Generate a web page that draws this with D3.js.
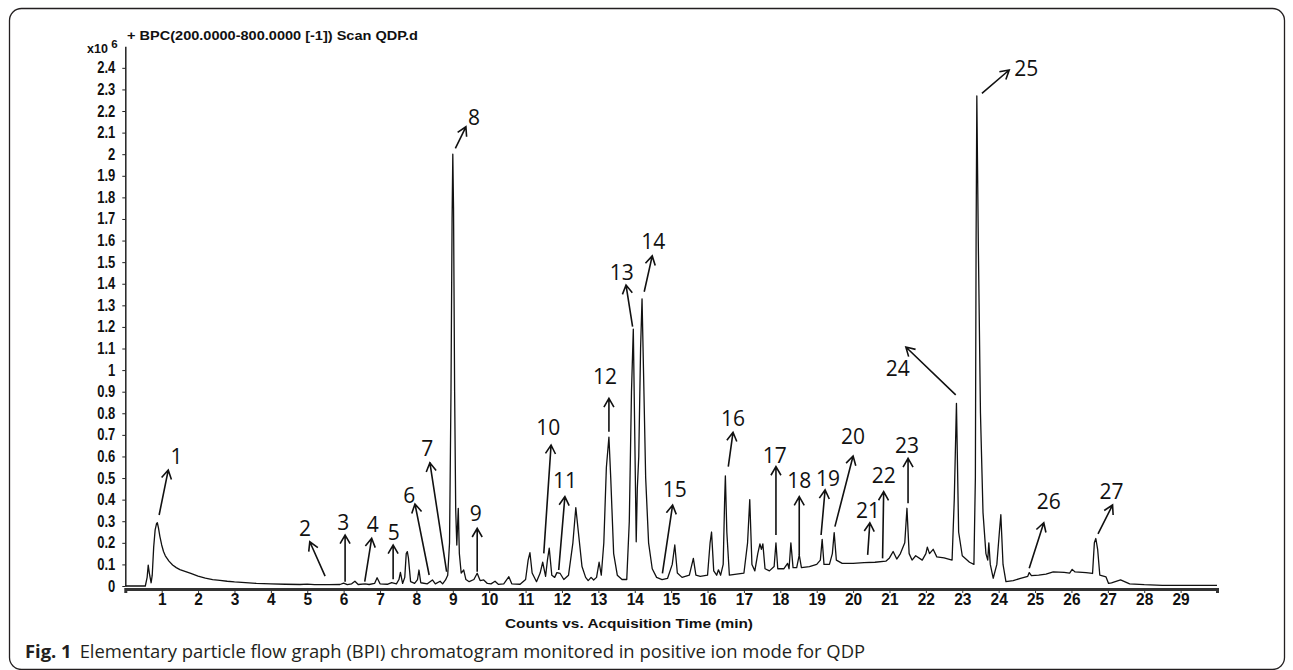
<!DOCTYPE html>
<html>
<head>
<meta charset="utf-8">
<script src="https://cdn.jsdelivr.net/npm/d3@7"></script>
<style>
  body { margin: 0; background: #fff; }
  svg { display: block; }
  .tick text { font-family: "Liberation Sans", Arial, sans-serif; font-weight: bold; fill: #111; }
  .peak-id { font-family: "Open Sans", "Noto Sans", sans-serif; font-size: 21px; fill: #111; }
</style>
</head>
<body>
<svg id="chart" width="1293" height="670"></svg>
<script>
// retention time (min) and base peak counts (x10^6)
var retentionTimes = [0, 0.55, 0.6, 0.63, 0.66, 0.71, 0.74, 0.78, 0.82, 0.86, 0.88, 0.91, 0.95, 1.0, 1.05, 1.1, 1.2, 1.3, 1.4, 1.5, 1.6, 1.8, 2.0, 2.2, 2.4, 2.6, 2.8, 3.0, 3.3, 3.6, 4.0, 4.4, 4.8, 5.0, 5.2, 5.6, 5.9, 6.0, 6.1, 6.22, 6.31, 6.4, 6.59, 6.7, 6.85, 6.92, 7.0, 7.2, 7.32, 7.45, 7.52, 7.56, 7.62, 7.68, 7.72, 7.75, 7.78, 7.84, 7.95, 8.03, 8.07, 8.12, 8.3, 8.44, 8.52, 8.65, 8.72, 8.8, 8.86, 8.91, 8.95, 8.98, 9.0, 9.02, 9.05, 9.08, 9.11, 9.15, 9.18, 9.23, 9.3, 9.36, 9.45, 9.58, 9.67, 9.75, 9.85, 9.95, 10.05, 10.16, 10.25, 10.4, 10.54, 10.62, 10.85, 11.0, 11.07, 11.12, 11.18, 11.3, 11.4, 11.47, 11.55, 11.6, 11.65, 11.72, 11.8, 11.86, 11.95, 12.05, 12.18, 12.3, 12.38, 12.45, 12.55, 12.65, 12.72, 12.8, 12.87, 12.95, 13.02, 13.08, 13.15, 13.22, 13.29, 13.34, 13.42, 13.52, 13.65, 13.78, 13.85, 13.91, 13.96, 14.0, 14.04, 14.07, 14.11, 14.16, 14.2, 14.24, 14.3, 14.38, 14.48, 14.6, 14.75, 14.9, 15.03, 15.1, 15.17, 15.3, 15.5, 15.61, 15.68, 15.8, 16.0, 16.07, 16.11, 16.17, 16.25, 16.3, 16.36, 16.43, 16.47, 16.49, 16.53, 16.6, 16.8, 17.0, 17.1, 17.16, 17.22, 17.3, 17.38, 17.44, 17.48, 17.52, 17.58, 17.7, 17.83, 17.88, 17.93, 18.1, 18.2, 18.24, 18.29, 18.35, 18.45, 18.52, 18.58, 18.8, 19.0, 19.1, 19.15, 19.2, 19.35, 19.43, 19.48, 19.54, 19.7, 20.0, 20.3, 20.6, 20.9, 21.0, 21.1, 21.2, 21.3, 21.42, 21.48, 21.54, 21.62, 21.72, 21.9, 22.0, 22.04, 22.1, 22.2, 22.3, 22.5, 22.72, 22.78, 22.84, 22.9, 23.0, 23.2, 23.32, 23.36, 23.38, 23.4, 23.44, 23.5, 23.57, 23.65, 23.7, 23.73, 23.77, 23.85, 23.95, 24.02, 24.06, 24.12, 24.2, 24.4, 24.6, 24.8, 24.84, 24.9, 25.1, 25.3, 25.5, 25.8, 25.95, 26.02, 26.1, 26.4, 26.58, 26.63, 26.67, 26.72, 26.78, 26.95, 27.02, 27.1, 27.35, 27.6, 28.0, 28.5, 29.0, 30.0];
var bpcCounts = [0, 0, 0.04, 0.097, 0.06, 0.015, 0.05, 0.18, 0.26, 0.29, 0.293, 0.27, 0.23, 0.19, 0.16, 0.14, 0.115, 0.097, 0.085, 0.076, 0.07, 0.058, 0.046, 0.037, 0.03, 0.026, 0.022, 0.019, 0.016, 0.012, 0.01, 0.008, 0.007, 0.009, 0.006, 0.006, 0.007, 0.013, 0.006, 0.01, 0.022, 0.007, 0.01, 0.007, 0.012, 0.038, 0.01, 0.008, 0.016, 0.01, 0.03, 0.063, 0.012, 0.04, 0.15, 0.159, 0.13, 0.02, 0.012, 0.03, 0.074, 0.015, 0.01, 0.028, 0.01, 0.022, 0.01, 0.028, 0.05, 0.2, 0.9, 1.7, 2.0, 1.75, 0.9, 0.35, 0.19, 0.36, 0.15, 0.06, 0.074, 0.03, 0.02, 0.03, 0.059, 0.025, 0.028, 0.012, 0.01, 0.022, 0.008, 0.01, 0.043, 0.01, 0.008, 0.03, 0.12, 0.154, 0.06, 0.02, 0.06, 0.11, 0.045, 0.12, 0.175, 0.05, 0.04, 0.062, 0.058, 0.03, 0.05, 0.2, 0.363, 0.25, 0.09, 0.04, 0.025, 0.04, 0.028, 0.04, 0.11, 0.05, 0.2, 0.55, 0.69, 0.5, 0.15, 0.05, 0.03, 0.03, 0.3, 0.9, 1.19, 0.7, 0.205, 0.45, 0.6, 1.1, 1.33, 1.0, 0.5, 0.2, 0.08, 0.04, 0.03, 0.035, 0.1, 0.19, 0.06, 0.04, 0.05, 0.128, 0.05, 0.045, 0.05, 0.2, 0.25, 0.07, 0.05, 0.075, 0.05, 0.1, 0.4, 0.51, 0.25, 0.05, 0.055, 0.06, 0.2, 0.4, 0.1, 0.07, 0.15, 0.195, 0.17, 0.195, 0.08, 0.07, 0.09, 0.2, 0.08, 0.08, 0.105, 0.08, 0.2, 0.085, 0.085, 0.144, 0.085, 0.09, 0.1, 0.12, 0.216, 0.1, 0.1, 0.15, 0.247, 0.12, 0.105, 0.105, 0.108, 0.11, 0.115, 0.13, 0.16, 0.125, 0.15, 0.2, 0.36, 0.15, 0.12, 0.14, 0.12, 0.15, 0.18, 0.15, 0.17, 0.135, 0.13, 0.12, 0.4, 0.846, 0.25, 0.14, 0.11, 0.1, 0.5, 1.6, 2.27, 1.6, 0.8, 0.34, 0.15, 0.12, 0.2, 0.1, 0.036, 0.1, 0.25, 0.33, 0.1, 0.02, 0.025, 0.035, 0.045, 0.062, 0.048, 0.05, 0.055, 0.065, 0.063, 0.06, 0.077, 0.065, 0.062, 0.058, 0.2, 0.22, 0.17, 0.05, 0.042, 0.012, 0.015, 0.028, 0.01, 0.006, 0.003, 0.003, 0.003];

var xTicks = [1, 2, 3, 4, 5, 6, 7, 8, 9, 10, 11, 12, 13, 14, 15, 16, 17, 18, 19, 20, 21, 22, 23, 24, 25, 26, 27, 28, 29];
var yTicks = [0, 0.1, 0.2, 0.3, 0.4, 0.5, 0.6, 0.7, 0.8, 0.9, 1, 1.1, 1.2, 1.3, 1.4, 1.5, 1.6, 1.7, 1.8, 1.9, 2, 2.1, 2.2, 2.3, 2.4];

// peak numbers: label centre, arrow tail (near peak) and arrow head, in [min, x10^6]
var peakIds = ["1", "2", "3", "4", "5", "6", "7", "8", "9", "10", "11", "12", "13", "14", "15", "16", "17", "18", "19", "20", "21", "22", "23", "24", "25", "26", "27"];
var labelPos = [[1.41, 0.6], [4.94, 0.267], [5.99, 0.298], [6.8, 0.287], [7.38, 0.252], [7.8, 0.421], [8.3, 0.638], [9.58, 2.171], [9.63, 0.337], [11.62, 0.738], [12.08, 0.491], [13.18, 0.973], [13.64, 1.456], [14.51, 1.598], [15.1, 0.448], [16.7, 0.777], [17.85, 0.607], [18.52, 0.491], [19.31, 0.499], [20.0, 0.695], [20.41, 0.352], [20.84, 0.514], [21.48, 0.653], [21.23, 1.01], [24.76, 2.398], [25.38, 0.395], [27.1, 0.44]];
var arrowTail = [[0.93, 0.329], [5.49, 0.046], [6.04, 0.02], [6.58, 0.02], [7.36, 0.031], [8.35, 0.051], [8.83, 0.066], [9.07, 2.027], [9.67, 0.066], [11.5, 0.151], [11.91, 0.074], [13.29, 0.715], [13.94, 1.201], [14.26, 1.363], [14.76, 0.059], [16.57, 0.553], [17.88, 0.236], [18.52, 0.144], [19.12, 0.236], [19.5, 0.275], [20.4, 0.144], [20.81, 0.128], [21.51, 0.383], [22.82, 0.885], [23.54, 2.282], [24.84, 0.082], [26.73, 0.241]];
var arrowHead = [[1.18, 0.537], [5.07, 0.205], [6.04, 0.236], [6.77, 0.221], [7.36, 0.19], [7.96, 0.38], [8.37, 0.571], [9.36, 2.127], [9.67, 0.267], [11.7, 0.653], [12.08, 0.414], [13.29, 0.869], [13.76, 1.394], [14.48, 1.529], [15.04, 0.375], [16.7, 0.712], [17.88, 0.553], [18.52, 0.414], [19.23, 0.445], [20.0, 0.602], [20.46, 0.293], [20.84, 0.437], [21.51, 0.591], [21.45, 1.107], [24.29, 2.39], [25.24, 0.293], [27.13, 0.375]];

var svg = d3.select("#chart");

var xScale = d3.scaleLinear().domain([0, 30]).range([125.3, 1217]);
var yScale = d3.scaleLinear().domain([0, 2.5]).range([586, 46.25]);

// figure frame
svg.append("rect")
    .attr("x", 9.5).attr("y", 8.5)
    .attr("width", 1275).attr("height", 661)
    .attr("rx", 12).attr("ry", 12)
    .attr("fill", "none")
    .attr("stroke", "#231f20")
    .attr("stroke-width", 1.3);

// y axis
var yAxis = svg.append("g")
    .attr("transform", "translate(125.3,0)")
    .call(d3.axisLeft(yScale)
        .tickValues(yTicks)
        .tickFormat(function (d) { return String(d); })
        .tickSize(3)
        .tickPadding(7)
        .tickSizeOuter(0));
// the instrument font is taller than it is wide
yAxis.selectAll(".tick text").attr("font-size", 13).attr("transform", "scale(1,1.2)");
yAxis.select(".domain").attr("stroke", "#222").attr("stroke-width", 1.5);
yAxis.selectAll(".tick line").attr("stroke", "#222");

// x axis
var xAxis = svg.append("g")
    .attr("transform", "translate(0,589)")
    .call(d3.axisBottom(xScale)
        .tickValues(xTicks)
        .tickFormat(d3.format("d"))
        .tickSize(4)
        .tickPadding(0)
        .tickSizeOuter(4));
xAxis.selectAll(".tick text").attr("font-size", 15.5).attr("transform", "scale(1,1.1)");
xAxis.select(".domain").attr("stroke", "#333").attr("stroke-width", 3);
xAxis.selectAll(".tick line").attr("stroke", "#333");

// trace
var line = d3.line()
    .x(function (d) { return xScale(d[0]); })
    .y(function (d) { return yScale(d[1]); });

svg.append("path")
    .datum(d3.zip(retentionTimes, bpcCounts))
    .attr("fill", "none")
    .attr("stroke", "#111")
    .attr("stroke-width", 1.3)
    .attr("stroke-linejoin", "round")
    .attr("d", line);

// arrows with open heads
var arrows = svg.append("g").attr("class", "arrows");
peakIds.forEach(function (id, i) {
    var x1 = xScale(arrowTail[i][0]), y1 = yScale(arrowTail[i][1]);
    var x2 = xScale(arrowHead[i][0]), y2 = yScale(arrowHead[i][1]);
    var ang = Math.atan2(y1 - y2, x1 - x2);
    var len = 10, spread = Math.PI / 6;
    arrows.append("path")
        .attr("d", "M" + x1 + "," + y1 + "L" + x2 + "," + y2 +
            "M" + (x2 + len * Math.cos(ang - spread)) + "," + (y2 + len * Math.sin(ang - spread)) +
            "L" + x2 + "," + y2 +
            "L" + (x2 + len * Math.cos(ang + spread)) + "," + (y2 + len * Math.sin(ang + spread)))
        .attr("fill", "none")
        .attr("stroke", "#111")
        .attr("stroke-width", 1.6);
});

svg.append("g")
    .selectAll("text")
    .data(peakIds)
    .enter()
    .append("text")
    .attr("class", "peak-id")
    .attr("x", function (d, i) { return xScale(labelPos[i][0]); })
    .attr("y", function (d, i) { return yScale(labelPos[i][1]); })
    .attr("text-anchor", "middle")
    .attr("dominant-baseline", "central")
    .text(function (d) { return d; });

// header and titles
svg.append("text")
    .attr("x", 127).attr("y", 40)
    .attr("font-family", "Liberation Sans, Arial, sans-serif")
    .attr("font-weight", "bold").attr("font-size", 12)
    .attr("textLength", 291).attr("lengthAdjust", "spacingAndGlyphs")
    .attr("fill", "#111")
    .text("+ BPC(200.0000-800.0000 [-1]) Scan QDP.d");

var mult = svg.append("text")
    .attr("x", 87).attr("y", 53)
    .attr("font-family", "Liberation Sans, Arial, sans-serif")
    .attr("font-weight", "bold").attr("font-size", 12.5)
    .attr("fill", "#111");
mult.append("tspan").text("x10 ");
mult.append("tspan").attr("dy", -5).attr("font-size", 11.5).text("6");

svg.append("text")
    .attr("x", 629).attr("y", 628)
    .attr("text-anchor", "middle")
    .attr("font-family", "Liberation Sans, Arial, sans-serif")
    .attr("font-weight", "bold").attr("font-size", 13.5)
    .attr("textLength", 248).attr("lengthAdjust", "spacingAndGlyphs")
    .attr("fill", "#111")
    .text("Counts vs. Acquisition Time (min)");

var caption = svg.append("text")
    .attr("x", 25).attr("y", 658)
    .attr("font-family", "Open Sans, Noto Sans, sans-serif")
    .attr("font-size", 18.4)
    .attr("fill", "#231f20");
caption.append("tspan").attr("font-weight", "bold").text("Fig. 1");
caption.append("tspan").attr("dx", 8).text("Elementary particle flow graph (BPI) chromatogram monitored in positive ion mode for QDP");
</script>
</body>
</html>
